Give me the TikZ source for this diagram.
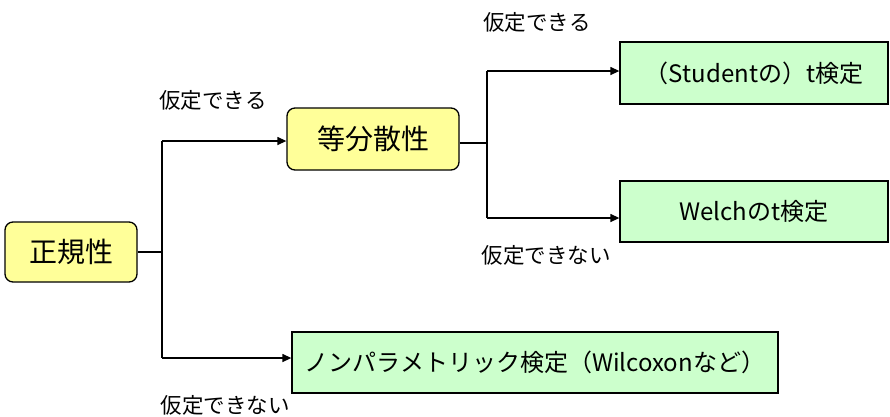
\documentclass[tikz,border=0pt]{standalone}
\usepackage{fontspec}
\setmainfont{Noto Sans CJK JP}
\usetikzlibrary{arrows.meta}
\definecolor{yel}{HTML}{FFFF99}
\definecolor{grn}{HTML}{CCFFCC}
\tikzset{
 ybox/.style={draw=black, line width=1.3pt, fill=yel, rounded corners=8pt, inner sep=0pt, font=\fontsize{28}{32}\selectfont},
 gbox/.style={draw=black, line width=1.3pt, fill=grn, inner sep=0pt, font=\fontsize{24}{28}\selectfont},
 lbl/.style={font=\fontsize{21.5}{24}\selectfont, inner sep=0pt},
 conn/.style={line width=1.3pt},
 arr/.style={conn, -{Triangle[length=9pt,width=8pt]}},
}
\begin{document}
\begin{tikzpicture}[x=1pt,y=1pt]
\useasboundingbox (0,0) rectangle (890,-416);
% nodes
\node[ybox, minimum width=132pt, minimum height=60pt] (seiki) at (71,-252) {正規性};
\node[ybox, minimum width=172pt, minimum height=62pt] (tou) at (373,-139) {等分散性};
\node[gbox, minimum width=268pt, minimum height=62pt] (stu) at (754,-73) {（Studentの）t検定};
\node[gbox, minimum width=268pt, minimum height=61pt] (welch) at (754,-211.5) {Welchのt検定};
\node[gbox, minimum width=486pt, minimum height=61pt] (np) at (535,-362.5) {ノンパラメトリック検定（Wilcoxonなど）};
% junctions
\coordinate (j1) at (162,-252);
\coordinate (j1t) at (162,-141);
\coordinate (j1b) at (162,-358);
\coordinate (j2) at (487,-143);
\coordinate (j2t) at (487,-71);
\coordinate (j2b) at (487,-218);
% connectors
\draw[conn] (seiki.east) -- (j1);
\draw[conn] (j1t) -- (j1b);
\draw[arr] (j1t) -- (tou.west |- j1t);
\draw[arr] (j1b) -- (np.west |- j1b);
\draw[conn] (tou.east |- j2) -- (j2);
\draw[conn] (j2t) -- (j2b);
\draw[arr] (j2t) -- (stu.west |- j2t);
\draw[arr] (j2b) -- (welch.west |- j2b);
% labels
\node[lbl] (l1) at (213,-100) {仮定できる};
\node[lbl] (l2) at (225,-405) {仮定できない};
\node[lbl] (l3) at (537,-22) {仮定できる};
\node[lbl] (l4) at (546,-255) {仮定できない};
\end{tikzpicture}
\end{document}
